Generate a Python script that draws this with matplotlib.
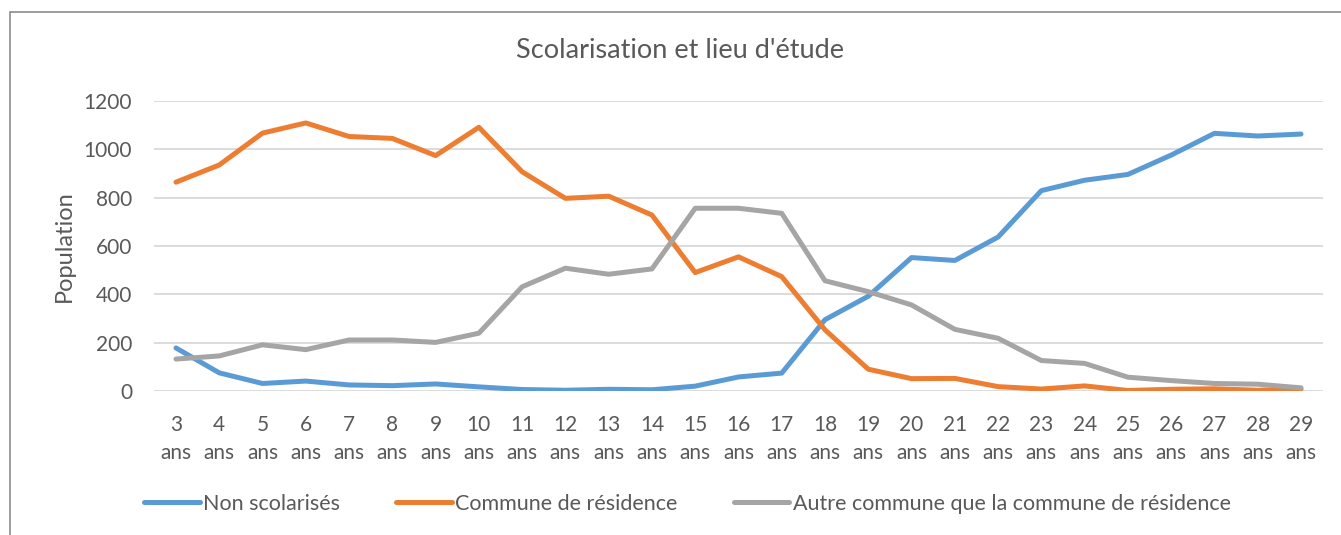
import matplotlib
matplotlib.use("Agg")
from matplotlib import pyplot as plt
from matplotlib.patches import Rectangle

# ages 3..29
ages = list(range(3, 30))
tick_labels = [f"{a}\nans" for a in ages]

non_scolarises = [178, 75, 31, 41, 25, 22, 29, 17, 6, 3, 7, 5, 20, 58, 74, 295, 392,
                  552, 540, 637, 829, 872, 896, 976, 1066, 1055, 1063]
commune_residence = [864, 935, 1067, 1109, 1053, 1045, 974, 1091, 907, 797, 806, 728, 490,
                     555, 473, 253, 90, 51, 52, 18, 8, 21, 2, 7, 9, 3, 8]
autre_commune = [132, 145, 191, 171, 211, 211, 201, 239, 431, 508, 483, 505, 756, 756,
                 735, 456, 411, 356, 255, 218, 126, 114, 57, 43, 31, 28, 13]

series_names = ["Non scolarisés", "Commune de résidence",
                "Autre commune que la commune de résidence"]
colors = ["#5B9BD5", "#ED7D31", "#A5A5A5"]
text_col = "#595959"

plt.rcParams['font.family'] = ['Lato', 'DejaVu Sans']

fig = plt.figure(figsize=(13.41, 5.35), dpi=100)
ax = fig.add_axes([0.1151, 0.2692, 0.8712, 0.5421])

x = list(range(len(ages)))
for vals, name, c in zip([non_scolarises, commune_residence, autre_commune], series_names, colors):
    ax.plot(x, vals, color=c, lw=3.6, label=name, solid_capstyle='round', solid_joinstyle='round')

ax.set_xlim(-0.5, len(ages) - 0.5)
ax.set_ylim(0, 1200)
ax.set_yticks(range(0, 1201, 200))
ax.set_xticks(x)
ax.set_xticklabels(tick_labels, linespacing=1.55)
ax.grid(axis='y', color='#D9D9D9', lw=1.3)
ax.set_axisbelow(True)
for s in ax.spines.values():
    s.set_visible(False)
ax.tick_params(axis='both', length=0, labelsize=15, colors=text_col)
ax.tick_params(axis='x', pad=17)
ax.tick_params(axis='y', pad=16)
ax.set_ylabel("Population", fontsize=17, color=text_col, labelpad=6)

fig.text(0.507, 1 - 50 / 535, "Scolarisation et lieu d'étude", ha='center', va='center',
         fontsize=19.5, color=text_col)

fig.legend(loc='center', bbox_to_anchor=(0.5125, 1 - 504 / 535), ncol=3, frameon=False,
           fontsize=15.5, handlelength=2.6, handletextpad=0.15, columnspacing=2.6,
           labelcolor=text_col)

# chart border
fig.patches.append(Rectangle((10 / 1341, -0.1), 1.2, 1 - 12 / 535 + 0.1,
                             transform=fig.transFigure, fill=False,
                             edgecolor='#8C8C8C', lw=1.2))

fig.savefig("out.png", dpi=100)
